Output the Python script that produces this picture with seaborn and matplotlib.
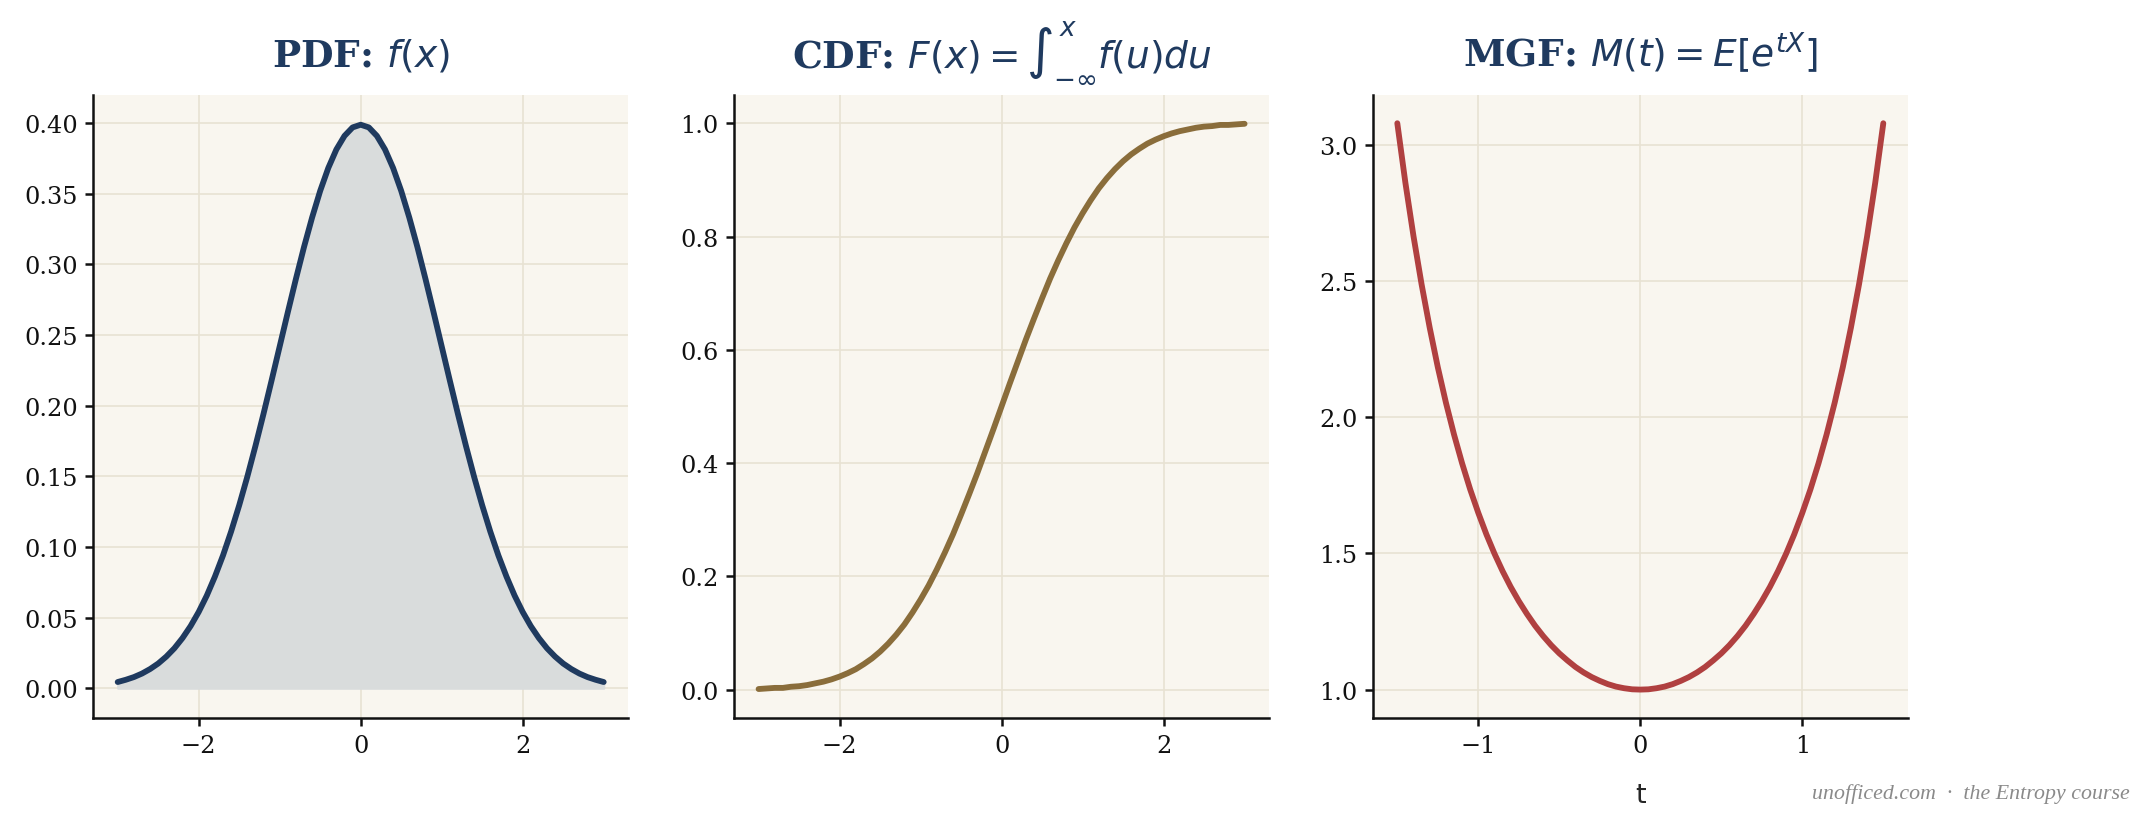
import numpy as np
import pandas as pd
import matplotlib
matplotlib.use("Agg")
import matplotlib.pyplot as plt
import seaborn as sns

# ================= data =================
x_vals = [-3.0, -2.9, -2.8, -2.7, -2.6, -2.5, -2.4, -2.3, -2.2, -2.1,
          -2.0, -1.9, -1.8, -1.7, -1.6, -1.5, -1.4, -1.3, -1.2, -1.1,
          -1.0, -0.9, -0.8, -0.7, -0.6, -0.5, -0.4, -0.3, -0.2, -0.1,
          0.0, 0.1, 0.2, 0.3, 0.4, 0.5, 0.6, 0.7, 0.8, 0.9,
          1.0, 1.1, 1.2, 1.3, 1.4, 1.5, 1.6, 1.7, 1.8, 1.9,
          2.0, 2.1, 2.2, 2.3, 2.4, 2.5, 2.6, 2.7, 2.8, 2.9, 3.0]
pdf_vals = [0.0044, 0.0060, 0.0079, 0.0104, 0.0136, 0.0175, 0.0224, 0.0283, 0.0355, 0.0440,
            0.0540, 0.0656, 0.0790, 0.0940, 0.1109, 0.1295, 0.1497, 0.1714, 0.1942, 0.2179,
            0.2420, 0.2661, 0.2897, 0.3123, 0.3332, 0.3521, 0.3683, 0.3814, 0.3910, 0.3970,
            0.3989, 0.3970, 0.3910, 0.3814, 0.3683, 0.3521, 0.3332, 0.3123, 0.2897, 0.2661,
            0.2420, 0.2179, 0.1942, 0.1714, 0.1497, 0.1295, 0.1109, 0.0940, 0.0790, 0.0656,
            0.0540, 0.0440, 0.0355, 0.0283, 0.0224, 0.0175, 0.0136, 0.0104, 0.0079, 0.0060, 0.0044]
cdf_vals = [0.001, 0.002, 0.003, 0.003, 0.005, 0.006, 0.008, 0.011, 0.014, 0.018,
            0.023, 0.029, 0.036, 0.045, 0.055, 0.067, 0.081, 0.097, 0.115, 0.136,
            0.159, 0.184, 0.212, 0.242, 0.274, 0.309, 0.345, 0.382, 0.421, 0.460,
            0.500, 0.540, 0.579, 0.618, 0.655, 0.691, 0.726, 0.758, 0.788, 0.816,
            0.841, 0.864, 0.885, 0.903, 0.919, 0.933, 0.945, 0.955, 0.964, 0.971,
            0.977, 0.982, 0.986, 0.989, 0.992, 0.994, 0.995, 0.997, 0.997, 0.998, 0.999]
t_vals = [-1.50, -1.45, -1.40, -1.35, -1.30, -1.25, -1.20, -1.15, -1.10, -1.05,
          -1.00, -0.95, -0.90, -0.85, -0.80, -0.75, -0.70, -0.65, -0.60, -0.55,
          -0.50, -0.45, -0.40, -0.35, -0.30, -0.25, -0.20, -0.15, -0.10, -0.05,
          0.00, 0.05, 0.10, 0.15, 0.20, 0.25, 0.30, 0.35, 0.40, 0.45,
          0.50, 0.55, 0.60, 0.65, 0.70, 0.75, 0.80, 0.85, 0.90, 0.95,
          1.00, 1.05, 1.10, 1.15, 1.20, 1.25, 1.30, 1.35, 1.40, 1.45, 1.50]
mgf_vals = [3.080, 2.861, 2.665, 2.488, 2.329, 2.184, 2.054, 1.937, 1.831, 1.735,
            1.649, 1.570, 1.499, 1.435, 1.377, 1.325, 1.278, 1.235, 1.197, 1.163,
            1.133, 1.107, 1.083, 1.063, 1.046, 1.032, 1.020, 1.011, 1.005, 1.001,
            1.000, 1.001, 1.005, 1.011, 1.020, 1.032, 1.046, 1.063, 1.083, 1.107,
            1.133, 1.163, 1.197, 1.235, 1.278, 1.325, 1.377, 1.435, 1.499, 1.570,
            1.649, 1.735, 1.831, 1.937, 2.054, 2.184, 2.329, 2.488, 2.665, 2.861, 3.080]

titles = ["PDF: $f(x)$",
          "CDF: $F(x) = \\int_{-\\infty}^{x} f(u)du$",
          "MGF: $M(t) = E[e^{tX}]$"]
pdf_yticks = [0.00, 0.05, 0.10, 0.15, 0.20, 0.25, 0.30, 0.35, 0.40]
cdf_yticks = [0.0, 0.2, 0.4, 0.6, 0.8, 1.0]
mgf_yticks = [1.0, 1.5, 2.0, 2.5, 3.0]

# ================= style =================
NAVY = "#1f3a5f"
BROWN = "#8a6d3b"
RED = "#b04040"
CREAM = "#f9f6ef"
GRID = "#e8e2d3"

sns.set_theme(style="ticks")
plt.rcParams["font.family"] = ["DejaVu Serif"]
plt.rcParams["mathtext.fontset"] = "dejavusans"
plt.rcParams["axes.edgecolor"] = "#111111"
plt.rcParams["axes.linewidth"] = 1.2

df_n = pd.DataFrame({"x": x_vals, "pdf": pdf_vals, "cdf": cdf_vals})
df_m = pd.DataFrame({"t": t_vals, "mgf": mgf_vals})

fig = plt.figure(figsize=(2147 / 150, 834 / 150), dpi=150)
lefts = [0.0435, 0.342, 0.6395]
axes = [fig.add_axes([l, 0.138, 0.249, 0.747]) for l in lefts]

# PDF
ax = axes[0]
ax.fill_between(df_n["x"], df_n["pdf"], 0, color="#d9dcdc", zorder=2)
sns.lineplot(data=df_n, x="x", y="pdf", ax=ax, color=NAVY, lw=2.8, zorder=3)
ax.set_yticks(pdf_yticks)
ax.set_yticklabels([f"{v:.2f}" for v in pdf_yticks])
ax.set_ylim(-0.021, 0.42)
ax.set_xlim(-3.3, 3.3)
ax.set_xticks([-2, 0, 2])

# CDF
ax = axes[1]
sns.lineplot(data=df_n, x="x", y="cdf", ax=ax, color=BROWN, lw=2.8, zorder=3)
ax.set_yticks(cdf_yticks)
ax.set_yticklabels([f"{v:.1f}" for v in cdf_yticks])
ax.set_ylim(-0.05, 1.05)
ax.set_xlim(-3.3, 3.3)
ax.set_xticks([-2, 0, 2])

# MGF
ax = axes[2]
sns.lineplot(data=df_m, x="t", y="mgf", ax=ax, color=RED, lw=2.8, zorder=3)
ax.set_yticks(mgf_yticks)
ax.set_yticklabels([f"{v:.1f}" for v in mgf_yticks])
ax.set_ylim(0.896, 3.184)
ax.set_xlim(-1.65, 1.65)
ax.set_xticks([-1, 0, 1])

for i, ax in enumerate(axes):
    ax.set_facecolor(CREAM)
    ax.grid(True, color=GRID, lw=0.8, zorder=0)
    ax.set_axisbelow(True)
    sns.despine(ax=ax)
    ax.tick_params(labelsize=11.5, length=4, width=1.2, colors="#111111")
    ax.set_title(titles[i], fontsize=18, fontweight="bold", color=NAVY, pad=14)
    ax.set_ylabel("")
    ax.set_xlabel("")

axes[2].set_xlabel("t", fontsize=13, family="DejaVu Sans", labelpad=12)

fig.text(0.992, 0.048, "unofficed.com  ·  the Entropy course", ha="right", va="center",
         fontsize=10.5, style="italic", color="#8a8a8a", family="Liberation Serif")

fig.savefig("out.png", dpi=150)
